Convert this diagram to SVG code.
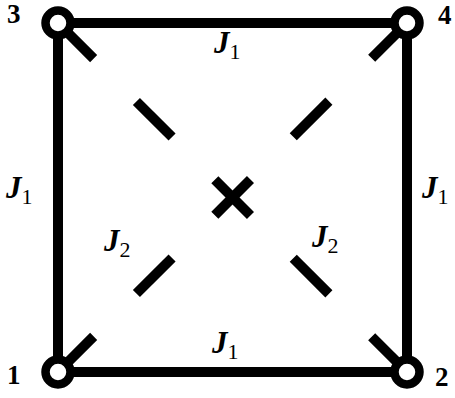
<svg xmlns="http://www.w3.org/2000/svg" width="455" height="398" viewBox="0 0 455 398">
<style>
.edge{stroke:#000;stroke-width:10;fill:none;stroke-linecap:butt}
.diag{stroke:#000;stroke-width:10;fill:none;stroke-linecap:butt;stroke-dasharray:50.4 60.5}
.node{fill:#fff;stroke:#000;stroke-width:8.5}
.num{font-family:"Liberation Serif","DejaVu Serif",serif;font-weight:bold;font-size:27px;fill:#000}
.lab{font-family:"Liberation Serif","DejaVu Serif",serif;fill:#000}
.J{font-weight:bold;font-style:italic;font-size:31px}
.sub{font-size:22px}
</style>
<rect width="455" height="398" fill="#fff"/>
<g id="connectors">
<line class="edge" x1="58" y1="23" x2="407" y2="23"/>
<line class="edge" x1="58" y1="372" x2="407" y2="372"/>
<line class="edge" x1="58" y1="23" x2="58" y2="372"/>
<line class="edge" x1="407" y1="23" x2="407" y2="372"/>
<line class="diag" x1="58" y1="23" x2="407" y2="372"/>
<line class="diag" x1="58" y1="372" x2="407" y2="23"/>
</g>
<g id="node1"><circle class="node" cx="58" cy="372" r="12.5"/><text class="num" x="7" y="384">1</text></g>
<g id="node2"><circle class="node" cx="407" cy="372" r="12.5"/><text class="num" x="435" y="386">2</text></g>
<g id="node3"><circle class="node" cx="58" cy="23" r="12.5"/><text class="num" x="7" y="23">3</text></g>
<g id="node4"><circle class="node" cx="407" cy="23" r="12.5"/><text class="num" x="438" y="24">4</text></g>
<g id="labels">
<text class="lab" x="214" y="53"><tspan class="J">J</tspan><tspan class="sub" dy="6">1</tspan></text>
<text class="lab" x="212" y="353"><tspan class="J">J</tspan><tspan class="sub" dy="6">1</tspan></text>
<text class="lab" x="6" y="198"><tspan class="J">J</tspan><tspan class="sub" dy="6">1</tspan></text>
<text class="lab" x="422" y="198"><tspan class="J">J</tspan><tspan class="sub" dy="6">1</tspan></text>
<text class="lab" x="104" y="251"><tspan class="J">J</tspan><tspan class="sub" dy="6">2</tspan></text>
<text class="lab" x="312" y="247"><tspan class="J">J</tspan><tspan class="sub" dy="6">2</tspan></text>
</g>
</svg>
